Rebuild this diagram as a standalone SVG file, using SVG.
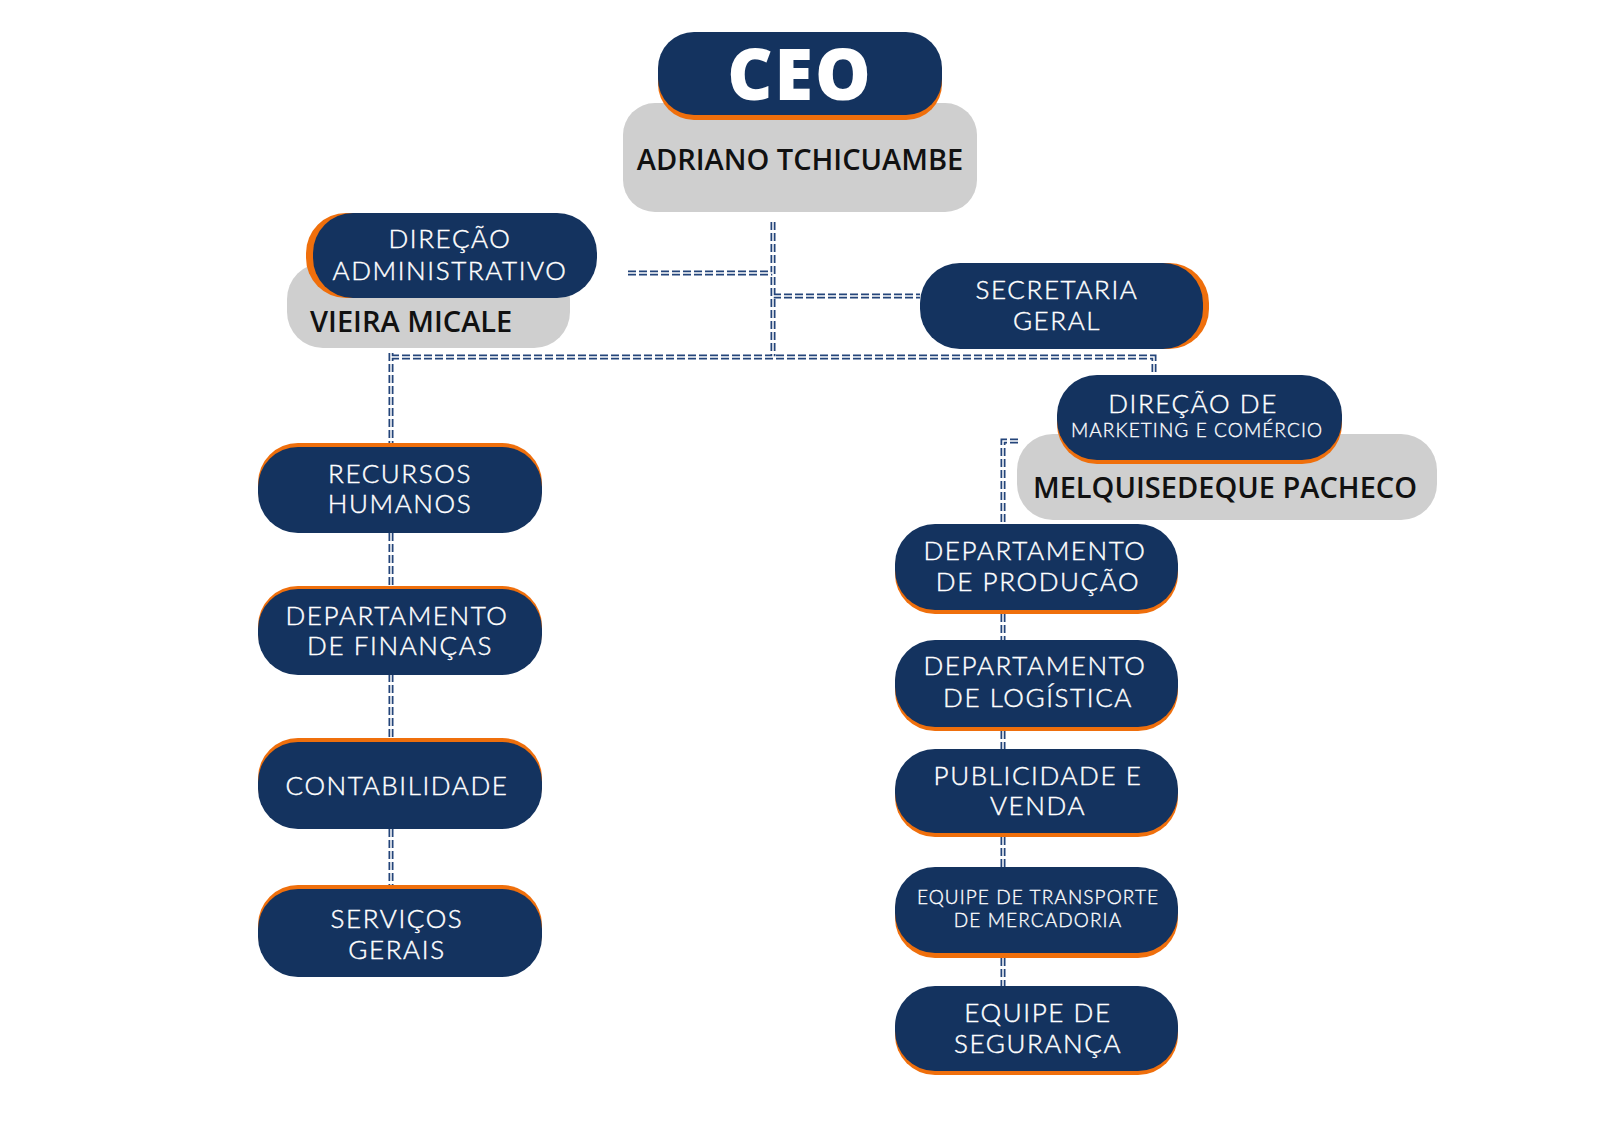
<svg xmlns="http://www.w3.org/2000/svg" xmlns:xlink="http://www.w3.org/1999/xlink" width="1600" height="1131" viewBox="0 0 1600 1131">
<style>
.navy{fill:#14335f}
.orange{fill:#ef6f0c}
.gray{fill:#cfcfcf}
.lbl{font-family:Lato,"Open Sans","Liberation Sans",sans-serif;font-size:26px;font-weight:300;fill:#ffffff;stroke:#ffffff;stroke-width:0.45px;text-anchor:middle;letter-spacing:1.6px}
.sm{font-size:19px;letter-spacing:1.1px;stroke-width:0.35px}
.name{font-family:"Open Sans","Liberation Sans",sans-serif;font-size:29px;font-weight:600;fill:#111111}
.ceo{font-family:"Open Sans","Liberation Sans",sans-serif;font-size:70px;font-weight:800;fill:#ffffff;text-anchor:middle;letter-spacing:2px}
</style>
<rect width="1600" height="1131" fill="#ffffff"/>
<g id="connectors">
<g stroke="#24457a" stroke-width="5" stroke-dasharray="8 3" fill="none">
<g id="conn-lines">
<path d="M773 222 V357"/>
<path d="M628 273 H773"/>
<path d="M773 296 H920"/>
<path d="M391 353 V443"/>
<path d="M391 357 H1154 V375"/>
<path d="M391 533 V586"/>
<path d="M391 674 V738"/>
<path d="M391 829 V885"/>
<path d="M1018 441 H1003 V524"/>
<path d="M1003 614 V640"/>
<path d="M1003 731 V749"/>
<path d="M1003 837 V867"/>
<path d="M1003 958 V986"/>
</g>
</g>
<use xlink:href="#conn-lines" href="#conn-lines" stroke="#ffffff" stroke-width="1.5" fill="none"/>
</g>
<g id="ceo">
<rect class="gray" x="623" y="103" width="354" height="109" rx="32"/>
<rect class="orange" x="658" y="37" width="284" height="83" rx="36"/>
<rect class="navy" x="658" y="32" width="284" height="83" rx="36"/>
<text class="ceo" x="800" y="100">CEO</text>
<text class="name" x="800" y="170" text-anchor="middle">ADRIANO TCHICUAMBE</text>
</g>
<g id="direcao-administrativo">
<rect class="gray" x="287" y="263" width="283" height="85" rx="36"/>
<rect class="orange" x="306" y="213" width="284" height="85" rx="40"/>
<rect class="navy" x="313" y="213" width="284" height="85" rx="40"/>
<text class="lbl" x="450" y="248">DIREÇÃO</text>
<text class="lbl" x="450" y="280">ADMINISTRATIVO</text>
<text class="name" x="310" y="332">VIEIRA MICALE</text>
</g>
<g id="secretaria-geral">
<rect class="orange" x="926" y="263" width="283" height="86" rx="40"/>
<rect class="navy" x="920" y="263" width="283" height="86" rx="40"/>
<text class="lbl" x="1057" y="299">SECRETARIA</text>
<text class="lbl" x="1057" y="330">GERAL</text>
</g>
<g id="direcao-marketing">
<rect class="gray" x="1017" y="434" width="420" height="86" rx="36"/>
<rect class="orange" x="1057" y="379" width="285" height="85" rx="40"/>
<rect class="navy" x="1057" y="375" width="285" height="85" rx="40"/>
<text class="lbl" x="1193" y="413">DIREÇÃO DE</text>
<text class="lbl sm" x="1197" y="437">MARKETING E COMÉRCIO</text>
<text class="name" x="1225" y="498" text-anchor="middle">MELQUISEDEQUE PACHECO</text>
</g>
<g id="recursos-humanos">
<rect class="orange" x="258" y="443" width="284" height="86" rx="40"/>
<rect class="navy" x="258" y="447" width="284" height="86" rx="40"/>
<text class="lbl" x="400" y="483">RECURSOS</text>
<text class="lbl" x="400" y="513">HUMANOS</text>
</g>
<g id="departamento-financas">
<rect class="orange" x="258" y="586" width="284" height="86" rx="40"/>
<rect class="navy" x="258" y="589" width="284" height="86" rx="40"/>
<text class="lbl" x="397" y="625">DEPARTAMENTO</text>
<text class="lbl" x="400" y="655">DE FINANÇAS</text>
</g>
<g id="contabilidade">
<rect class="orange" x="258" y="738" width="284" height="87" rx="40"/>
<rect class="navy" x="258" y="742" width="284" height="87" rx="40"/>
<text class="lbl" x="397" y="795">CONTABILIDADE</text>
</g>
<g id="servicos-gerais">
<rect class="orange" x="258" y="885" width="284" height="88" rx="40"/>
<rect class="navy" x="258" y="889" width="284" height="88" rx="40"/>
<text class="lbl" x="397" y="928">SERVIÇOS</text>
<text class="lbl" x="397" y="959">GERAIS</text>
</g>
<g id="departamento-producao">
<rect class="orange" x="895" y="528" width="283" height="86" rx="40"/>
<rect class="navy" x="895" y="524" width="283" height="86" rx="40"/>
<text class="lbl" x="1035" y="560">DEPARTAMENTO</text>
<text class="lbl" x="1038" y="591">DE PRODUÇÃO</text>
</g>
<g id="departamento-logistica">
<rect class="orange" x="895" y="644" width="283" height="87" rx="40"/>
<rect class="navy" x="895" y="640" width="283" height="87" rx="40"/>
<text class="lbl" x="1035" y="675">DEPARTAMENTO</text>
<text class="lbl" x="1038" y="707">DE LOGÍSTICA</text>
</g>
<g id="publicidade-venda">
<rect class="orange" x="895" y="753" width="283" height="84" rx="40"/>
<rect class="navy" x="895" y="749" width="283" height="84" rx="40"/>
<text class="lbl" x="1038" y="785">PUBLICIDADE E</text>
<text class="lbl" x="1038" y="815">VENDA</text>
</g>
<g id="equipe-transporte">
<rect class="orange" x="895" y="871" width="283" height="87" rx="40"/>
<rect class="navy" x="895" y="867" width="283" height="86" rx="40"/>
<text class="lbl sm" x="1038" y="904">EQUIPE DE TRANSPORTE</text>
<text class="lbl sm" x="1038" y="927">DE MERCADORIA</text>
</g>
<g id="equipe-seguranca">
<rect class="orange" x="895" y="990" width="283" height="85" rx="40"/>
<rect class="navy" x="895" y="986" width="283" height="85" rx="40"/>
<text class="lbl" x="1038" y="1022">EQUIPE DE</text>
<text class="lbl" x="1038" y="1053">SEGURANÇA</text>
</g>
</svg>
